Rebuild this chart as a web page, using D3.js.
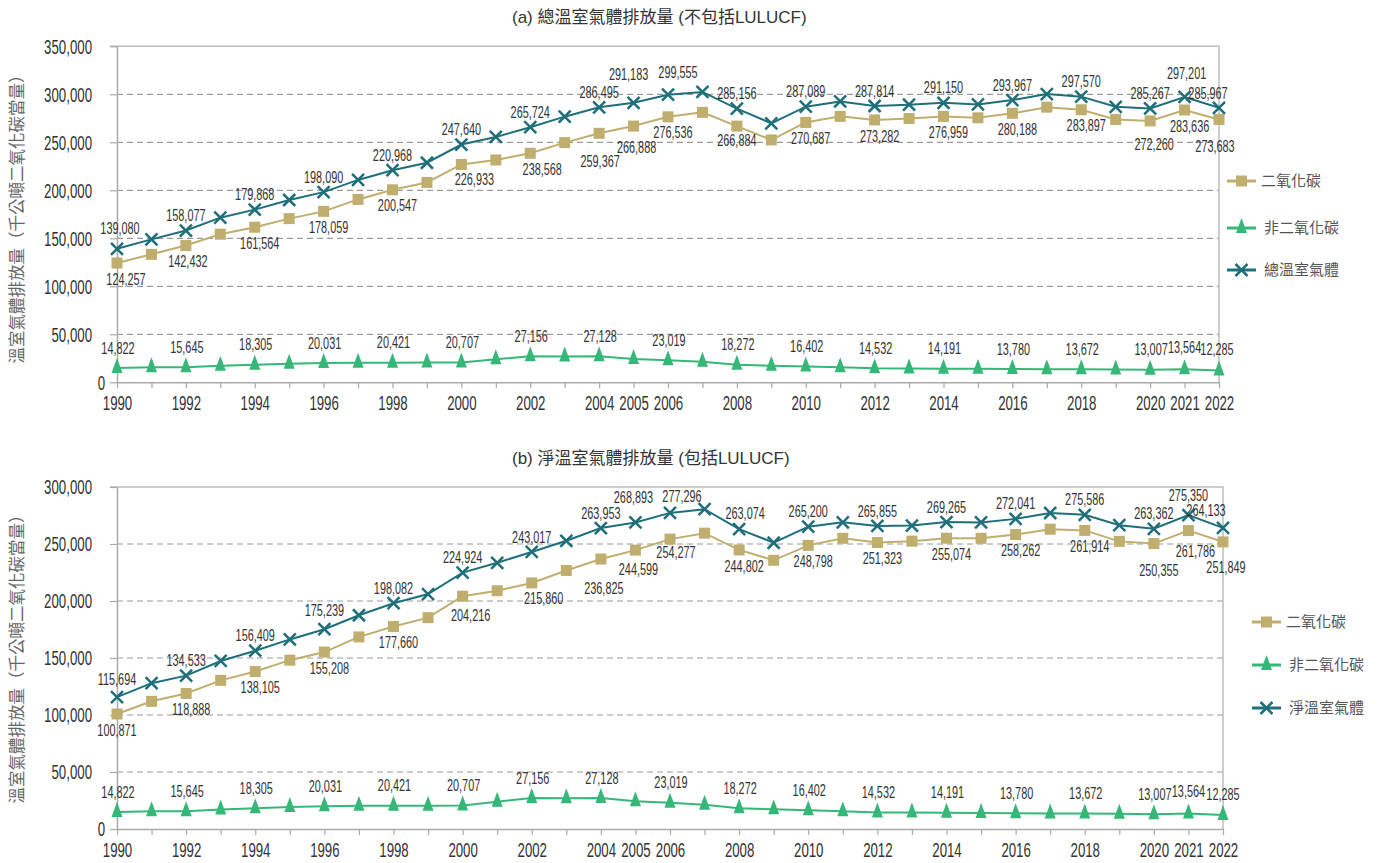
<!DOCTYPE html>
<html>
<head>
<meta charset="utf-8">
<script src="https://cdn.jsdelivr.net/npm/d3@7/dist/d3.min.js"></script>
<style>
  body { margin: 0; background: #fff; }
</style>
</head>
<body>
<script>
// categories
const years = [1990, 1991, 1992, 1993, 1994, 1995, 1996, 1997, 1998, 1999, 2000, 2001, 2002, 2003, 2004, 2005,
  2006, 2007, 2008, 2009, 2010, 2011, 2012, 2013, 2014, 2015, 2016, 2017, 2018, 2019, 2020, 2021, 2022];
const labelYears = [1990, 1992, 1994, 1996, 1998, 2000, 2002, 2004, 2005, 2006, 2008, 2010, 2012, 2014, 2016,
  2018, 2020, 2021, 2022];
// non-CO2 has no value label for 2005
const nonLabelYears = [1990, 1992, 1994, 1996, 1998, 2000, 2002, 2004, 2006, 2008, 2010, 2012, 2014, 2016,
  2018, 2020, 2021, 2022];

// (a) gross emissions, excluding LULUCF
const co2Gross = [124257, 133300, 142432, 154300, 161564, 170500, 178059, 190500, 200547, 208200, 226933,
  231600, 238568, 249700, 259367, 266888, 276536, 281200, 266884, 252500, 270687, 277000, 273282, 274800,
  276959, 275500, 280188, 286600, 283897, 273700, 272260, 283636, 273683];
const totalGross = [139080, 148900, 158077, 171500, 179868, 189900, 198090, 210800, 220968, 228700, 247640,
  255600, 265724, 276700, 286495, 291183, 299555, 302500, 285156, 269800, 287089, 292600, 287814, 289200,
  291150, 289500, 293967, 300300, 297570, 287000, 285267, 297201, 285967];

// non-CO2 (same in both panels)
const nonCo2 = [14822, 15600, 15645, 17200, 18305, 19400, 20031, 20300, 20421, 20500, 20707, 24000, 27156,
  27000, 27128, 24295, 23019, 21300, 18272, 17300, 16402, 15600, 14532, 14400, 14191, 14000, 13780, 13700,
  13672, 13300, 13007, 13564, 12285];

// (b) net emissions, including LULUCF
const co2Net = [100871, 112000, 118888, 130400, 138105, 148100, 155208, 168500, 177660, 185400, 204216,
  209000, 215860, 226800, 236825, 244599, 254277, 259500, 244802, 235700, 248798, 255000, 251323, 252500,
  255074, 255000, 258262, 263000, 261914, 252300, 250355, 261786, 251849];
const totalNet = [115694, 127900, 134533, 147400, 156409, 166300, 175239, 187500, 198082, 206100, 224924,
  233500, 243017, 252800, 263953, 268893, 277296, 280500, 263074, 251100, 265200, 269000, 265855, 266200,
  269265, 268900, 272041, 277200, 275586, 266500, 263362, 275350, 264133];

const ticksA = [0, 50000, 100000, 150000, 200000, 250000, 300000, 350000];
const ticksB = [0, 50000, 100000, 150000, 200000, 250000, 300000];

const COL = { co2: '#bfae6e', non: '#35b877', total: '#1f6f7b' };
const LATIN = "'Liberation Sans', Arial, 'Noto Sans CJK TC', sans-serif";
const CJK = "'Noto Sans CJK TC', 'Noto Sans CJK SC', sans-serif";
const SX = 0.68; // squeeze Liberation Sans to the condensed look of the original

const MARK = {
  co2: 'M-5.5,-5.5h11v11h-11z',
  non: 'M0,-10L5.5,5H-5.5Z',
  total: 'M-6,-6L6,6M-6,6L6,-6'
};

// hand placement of the value labels (dx, dy) where the default would collide
const nudge = {
  a: {
    total: { 1990: [3, -20], 2005: [-5, -28], 2006: [10, -22], 2021: [2, -24], 2022: [-11, -14] },
    co2: { 1990: [9, 16], 1992: [2, 16], 2000: [13, 15], 2002: [12, 16], 2004: [1, 28], 2005: [3, 21],
      2008: [0, 14], 2020: [4, 23], 2022: [-4, 27] },
    non: { 2021: [0, -22], 2022: [-2, -21] }
  },
  b: {
    total: { 1990: [0, -18], 1996: [0, -19], 2005: [-2, -25], 2006: [12, -16], 2008: [6, -16], 2021: [0, -20],
      2022: [-17, -17] },
    co2: { 1990: [0, 16], 2000: [8, 19], 2002: [12, 15], 2004: [3, 29], 2005: [3, 19], 2006: [6, 13],
      2020: [5, 27], 2021: [7, 21], 2022: [3, 25] },
    non: { 2021: [0, -22], 2022: [0, -21] }
  }
};
const defNudge = { total: [0, -15], co2: [5, 16], non: [1, -20] };

const svg = d3.select('body').append('svg')
  .attr('width', 1392).attr('height', 863)
  .style('font-family', LATIN);

function narrowText (sel, x, y, str, size, anchor) {
  return sel.append('text')
    .attr('transform', `translate(${x},${y}) scale(${SX},1)`)
    .attr('text-anchor', anchor || 'middle')
    .attr('dy', '0.35em')
    .attr('font-size', size)
    .attr('fill', '#333')
    .text(str);
}

function drawPanel (p) {
  const x = d3.scaleLinear().domain([years[0], years[years.length - 1]]).range([p.left, p.right]);
  const y = d3.scaleLinear().domain([0, p.ticks[p.ticks.length - 1]]).range([p.bottom, p.top]);
  const g = svg.append('g');

  // title
  g.append('text')
    .attr('x', 512).attr('y', p.titleY)
    .attr('font-family', LATIN)
    .attr('font-size', 17)
    .attr('fill', '#333')
    .text(p.title);

  // dashed gridlines
  g.append('g').selectAll('line')
    .data(p.ticks.slice(1, -1))
    .join('line')
    .attr('x1', p.left).attr('x2', p.right)
    .attr('y1', d => y(d)).attr('y2', d => y(d))
    .attr('stroke', '#9a9a9a').attr('stroke-width', 1.2)
    .attr('stroke-dasharray', '6,4');

  // top + right frame
  g.append('path')
    .attr('d', `M${p.left - 7},${y.range()[1]}H${p.right}V${p.bottom}`)
    .attr('fill', 'none').attr('stroke', '#bdbdbd').attr('stroke-width', 1.5);

  // y axis
  const ya = g.append('g')
    .attr('transform', `translate(${p.left},0)`)
    .call(d3.axisLeft(y).tickValues(p.ticks).tickSize(7).tickSizeOuter(0).tickFormat(d3.format(',')));
  ya.select('.domain').attr('stroke', '#aaa').attr('stroke-width', 1.5);
  ya.selectAll('.tick line').attr('stroke', '#aaa').attr('stroke-width', 1.2);
  ya.selectAll('.tick text')
    .attr('x', null).attr('dy', '0.35em')
    .attr('transform', d => `translate(${d === 0 ? -12 : -25},0) scale(${SX},1)`)
    .attr('font-family', LATIN).attr('font-size', 19.5).attr('fill', '#333');

  // x axis
  const xa = g.append('g')
    .attr('transform', `translate(0,${p.bottom})`)
    .call(d3.axisBottom(x).tickValues(years).tickSize(6).tickSizeOuter(0)
      .tickFormat(d => labelYears.includes(d) ? d : ''));
  xa.select('.domain').attr('stroke', '#aaa').attr('stroke-width', 1.5);
  xa.selectAll('.tick line').attr('stroke', '#aaa').attr('stroke-width', 1.2);
  xa.selectAll('.tick text')
    .attr('y', null).attr('dy', '0.35em')
    .attr('transform', `translate(0,21) scale(${SX},1)`)
    .attr('font-family', LATIN).attr('font-size', 19.5).attr('fill', '#333');

  // y axis title
  g.append('text')
    .attr('transform', `translate(17,${p.yTitleY}) rotate(-90)`)
    .attr('text-anchor', 'middle').attr('dy', '0.35em')
    .attr('font-family', CJK).attr('font-size', 16.5).attr('fill', '#666')
    .text('溫室氣體排放量（千公噸二氧化碳當量）');

  const line = d3.line().x((d, i) => x(years[i])).y(d => y(d));

  p.series.forEach(s => {
    g.append('path')
      .datum(s.values)
      .attr('d', line)
      .attr('fill', 'none')
      .attr('stroke', COL[s.key])
      .attr('stroke-width', 2);

    g.append('g').selectAll('path')
      .data(s.values)
      .join('path')
      .attr('transform', (d, i) => `translate(${x(years[i])},${y(d)})`)
      .attr('d', MARK[s.key])
      .attr('fill', s.key === 'total' ? 'none' : COL[s.key])
      .attr('stroke', s.key === 'total' ? COL[s.key] : 'none')
      .attr('stroke-width', 2.5);
  });

  // value labels
  p.series.forEach(s => {
    const lg = g.append('g');
    const which = s.key === 'non' ? nonLabelYears : labelYears;
    which.forEach(yr => {
      const i = years.indexOf(yr);
      const off = (p.nudge[s.key] && p.nudge[s.key][yr]) || defNudge[s.key];
      narrowText(lg, x(yr) + off[0], y(s.values[i]) + off[1], d3.format(',')(s.values[i]), 16);
    });
  });

  // legend
  const leg = g.append('g');
  p.legend.forEach((item, k) => {
    const ly = p.legendY[k];
    const row = leg.append('g');
    row.append('line')
      .attr('x1', p.legendX).attr('x2', p.legendX + 29)
      .attr('y1', ly).attr('y2', ly)
      .attr('stroke', COL[item.key]).attr('stroke-width', 3);
    row.append('path')
      .attr('transform', `translate(${p.legendX + 14.5},${ly})`)
      .attr('d', MARK[item.key])
      .attr('fill', item.key === 'total' ? 'none' : COL[item.key])
      .attr('stroke', item.key === 'total' ? COL[item.key] : 'none')
      .attr('stroke-width', 2.5);
    row.append('text')
      .attr('x', p.legendX + 34 + (item.key === 'co2' ? 0 : 3)).attr('y', ly)
      .attr('dy', '0.35em')
      .attr('font-family', CJK).attr('font-size', 15).attr('fill', '#555')
      .text(item.name);
  });
}

drawPanel({
  title: '(a) 總溫室氣體排放量 (不包括LULUCF)',
  titleY: 23,
  left: 117, right: 1219, top: 46.3, bottom: 382.3,
  ticks: ticksA,
  yTitleY: 215,
  series: [
    { key: 'non', values: nonCo2 },
    { key: 'co2', values: co2Gross },
    { key: 'total', values: totalGross }
  ],
  nudge: nudge.a,
  legendX: 1227,
  legendY: [181, 228, 270],
  legend: [
    { key: 'co2', name: '二氧化碳' },
    { key: 'non', name: '非二氧化碳' },
    { key: 'total', name: '總溫室氣體' }
  ]
});

drawPanel({
  title: '(b) 淨溫室氣體排放量 (包括LULUCF)',
  titleY: 464,
  left: 117, right: 1223, top: 487, bottom: 829,
  ticks: ticksB,
  yTitleY: 655,
  series: [
    { key: 'non', values: nonCo2 },
    { key: 'co2', values: co2Net },
    { key: 'total', values: totalNet }
  ],
  nudge: nudge.b,
  legendX: 1252,
  legendY: [622, 665, 708],
  legend: [
    { key: 'co2', name: '二氧化碳' },
    { key: 'non', name: '非二氧化碳' },
    { key: 'total', name: '淨溫室氣體' }
  ]
});
</script>
</body>
</html>
